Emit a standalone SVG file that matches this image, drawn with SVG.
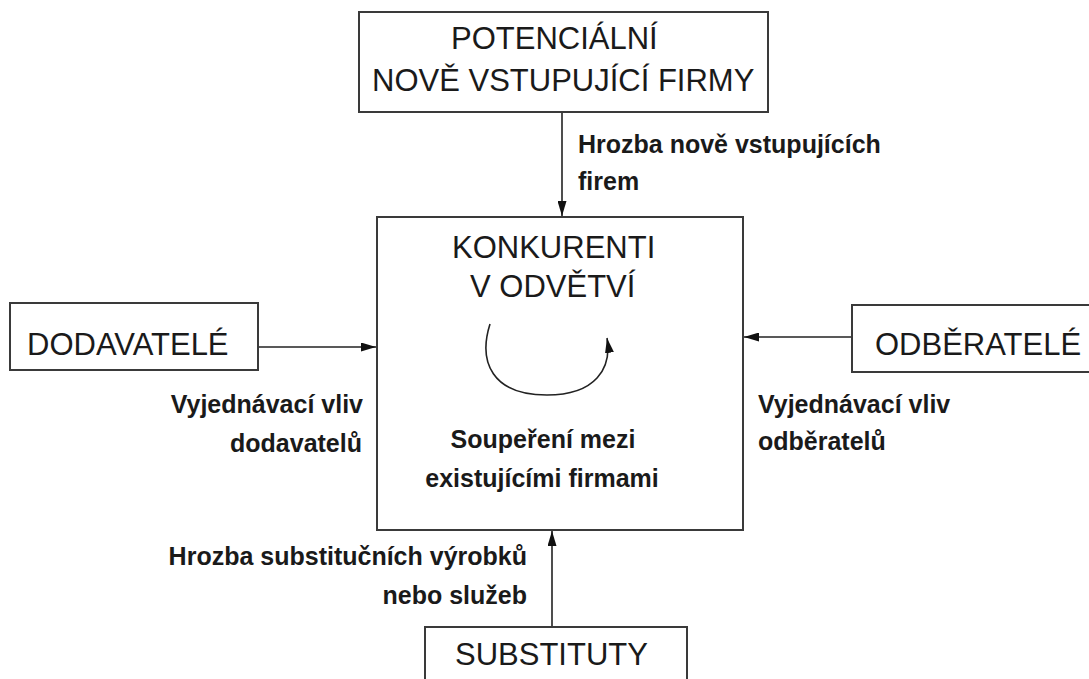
<svg xmlns="http://www.w3.org/2000/svg" width="1089" height="679" viewBox="0 0 1089 679">
  <style>
    .box { fill: #ffffff; stroke: #3a3a3a; stroke-width: 2; }
    .title { font-family: "Liberation Sans", Arial, sans-serif; font-size: 31px; fill: #1a1a1a; }
    .label { font-family: "Liberation Sans", Arial, sans-serif; font-size: 25px; font-weight: bold; fill: #1a1a1a; }
    .link { fill: none; stroke: #222222; stroke-width: 1.6; }
  </style>
  <defs>
    <marker id="arrow" markerUnits="userSpaceOnUse" markerWidth="15" markerHeight="9" refX="15" refY="4.5" orient="auto">
      <path d="M0,0 L15,4.5 L0,9 Z" fill="#111111"/>
    </marker>
  </defs>
  <rect width="1089" height="679" fill="#ffffff"/>

  <!-- connectors -->
  <g id="connectors">
    <line class="link" x1="562" y1="112" x2="562" y2="216" marker-end="url(#arrow)"/>
    <line class="link" x1="258" y1="347" x2="376" y2="347" marker-end="url(#arrow)"/>
    <line class="link" x1="852" y1="337" x2="744" y2="337" marker-end="url(#arrow)"/>
    <line class="link" x1="552" y1="627" x2="552" y2="531" marker-end="url(#arrow)"/>
  </g>

  <!-- potential entrants -->
  <g id="node-entrants">
    <rect class="box" x="359" y="12" width="409" height="100"/>
    <text class="title" x="451" y="49">POTENCIÁLNÍ</text>
    <text class="title" x="372" y="91">NOVĚ VSTUPUJÍCÍ FIRMY</text>
  </g>

  <!-- industry competitors -->
  <g id="node-competitors">
    <rect class="box" x="377" y="217" width="366" height="313"/>
    <text class="title" x="452" y="258">KONKURENTI</text>
    <text class="title" x="470" y="297">V ODVĚTVÍ</text>
    <path class="link" d="M490,324 C478,362 492,395 547,395 C596,395 612,368 607,338" marker-end="url(#arrow)"/>
    <text class="label" x="543" y="448" text-anchor="middle">Soupeření mezi</text>
    <text class="label" x="542" y="487" text-anchor="middle">existujícími firmami</text>
  </g>

  <!-- suppliers -->
  <g id="node-suppliers">
    <rect class="box" x="10" y="303" width="248" height="67"/>
    <text class="title" x="27" y="355">DODAVATELÉ</text>
  </g>

  <!-- buyers -->
  <g id="node-buyers">
    <rect class="box" x="852" y="305" width="260" height="67"/>
    <text class="title" x="875" y="355">ODBĚRATELÉ</text>
  </g>

  <!-- substitutes -->
  <g id="node-substitutes">
    <rect class="box" x="425" y="627" width="262" height="80"/>
    <text class="title" x="455" y="665">SUBSTITUTY</text>
  </g>

  <!-- connector labels -->
  <g id="labels">
    <text class="label" x="578" y="153">Hrozba nově vstupujících</text>
    <text class="label" x="578" y="190">firem</text>
    <text class="label" x="363" y="413" text-anchor="end">Vyjednávací vliv</text>
    <text class="label" x="362" y="452" text-anchor="end">dodavatelů</text>
    <text class="label" x="758" y="413">Vyjednávací vliv</text>
    <text class="label" x="758" y="450">odběratelů</text>
    <text class="label" x="527" y="565" text-anchor="end">Hrozba substitučních výrobků</text>
    <text class="label" x="527" y="604" text-anchor="end">nebo služeb</text>
  </g>
</svg>
